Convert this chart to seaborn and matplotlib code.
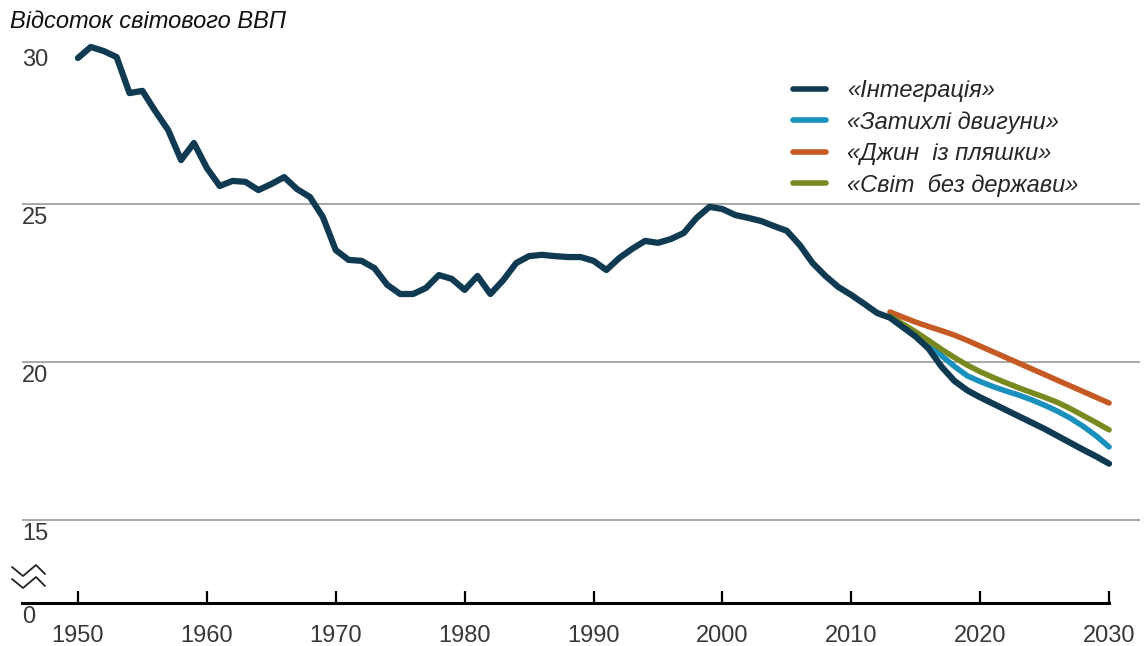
import matplotlib.pyplot as plt
import seaborn as sns
import pandas as pd
from matplotlib.lines import Line2D
from matplotlib import transforms

# --- дані (відсоток світового ВВП) ---
years_all = list(range(1950, 2031))
integration = [29.62, 29.97, 29.84, 29.65, 28.51, 28.58, 27.94, 27.34, 26.39, 26.93,
               26.14, 25.57, 25.73, 25.70, 25.44, 25.63, 25.85, 25.47, 25.22, 24.59,
               23.54, 23.23, 23.20, 22.97, 22.44, 22.15, 22.15, 22.34, 22.75, 22.63,
               22.28, 22.72, 22.15, 22.59, 23.13, 23.35, 23.39, 23.35, 23.32, 23.32,
               23.20, 22.91, 23.29, 23.58, 23.83, 23.77, 23.89, 24.08, 24.56, 24.91,
               24.84, 24.65, 24.56, 24.46, 24.30, 24.15, 23.70, 23.13, 22.72, 22.37,
               22.12, 21.84, 21.55, 21.40, 21.10, 20.80, 20.42, 19.85, 19.40, 19.10,
               18.88, 18.68, 18.48, 18.28, 18.08, 17.88, 17.66, 17.44, 17.22, 17.01,
               16.78]

years_proj = list(range(2013, 2031))
stalled = [21.42, 21.15, 20.88, 20.55, 20.20, 19.86, 19.56, 19.38, 19.22, 19.08,
           18.95, 18.80, 18.63, 18.44, 18.22, 17.96, 17.66, 17.31]
genie = [21.58, 21.42, 21.26, 21.12, 20.99, 20.85, 20.68, 20.50, 20.32, 20.14,
         19.96, 19.78, 19.60, 19.42, 19.24, 19.06, 18.88, 18.70]
stateless = [21.45, 21.20, 20.95, 20.68, 20.40, 20.14, 19.90, 19.69, 19.51, 19.34,
             19.18, 19.03, 18.88, 18.72, 18.52, 18.30, 18.08, 17.85]

scenarios = ['«Інтеграція»', '«Затихлі двигуни»', '«Джин  із пляшки»', '«Світ  без держави»']
colors = ['#0f3a52', '#1a90bd', '#c65a24', '#78891f']

x_ticks = [1950, 1960, 1970, 1980, 1990, 2000, 2010, 2020, 2030]
y_labels = [15, 20, 25, 30]
grid_vals = [15, 20, 25]

df = pd.concat([
    pd.DataFrame({'year': years_all, 'value': integration, 'scenario': scenarios[0]}),
    pd.DataFrame({'year': years_proj, 'value': stalled, 'scenario': scenarios[1]}),
    pd.DataFrame({'year': years_proj, 'value': genie, 'scenario': scenarios[2]}),
    pd.DataFrame({'year': years_proj, 'value': stateless, 'scenario': scenarios[3]}),
])

sns.set_style('white')
plt.rcParams['font.family'] = ['Liberation Sans', 'DejaVu Sans']

W, H = 1144, 646
fig = plt.figure(figsize=(W / 100, H / 100), dpi=100)
ax = fig.add_axes([22 / W, (H - 603) / H, (1140 - 22) / W, (603 - 40) / H])

sns.lineplot(data=df, x='year', y='value', hue='scenario', hue_order=scenarios,
             palette=colors, linewidth=4.0, ax=ax, legend=True)
for ln in ax.lines:
    ln.set_solid_capstyle('round')
    ln.set_solid_joinstyle('round')
ax.lines[0].set_linewidth(4.5)
ax.lines[0].set_zorder(5)

# осі: нижня межа відповідає «0» (розрив шкали)
ax.set_xlim(1945.66, 2032.4)
ax.set_ylim(12.37, 30.19)
ax.set_xlabel('')
ax.set_ylabel('')

for s in ['top', 'right', 'left']:
    ax.spines[s].set_visible(False)
ax.spines['bottom'].set_color('black')
ax.spines['bottom'].set_linewidth(2.2)
ax.spines['bottom'].set_bounds(1945.66, 2030)

tick_font = ['Liberation Sans Narrow', 'Liberation Sans', 'DejaVu Sans']
ax.set_xticks(x_ticks)
ax.set_xticklabels([str(v) for v in x_ticks], family=tick_font, fontsize=17, color='#383838')
ax.tick_params(axis='x', bottom=True, direction='in', length=9, width=1.6,
               color='black', pad=16)

ax.set_yticks(grid_vals)
ax.set_yticklabels([])
ax.tick_params(axis='y', left=False, length=0)
ax.yaxis.grid(True, color='#9a9a9a', linewidth=1.2)
ax.xaxis.grid(False)

trans = transforms.blended_transform_factory(ax.transAxes, ax.transData)
for v in y_labels:
    ax.text(0, v - 0.1, str(v), transform=trans, ha='left', va='top',
            family=tick_font, fontsize=17, color='#383838')
ax.text(0, 12.27, '0', transform=trans, ha='left', va='top',
        family=tick_font, fontsize=17, color='#383838')

# символ розриву шкали
for dy in (0, 12):
    xs = [12, 23, 36, 45]
    ys = [567 + dy, 576 + dy, 565 + dy, 574 + dy]
    fig.add_artist(Line2D([x / W for x in xs], [1 - y / H for y in ys],
                          transform=fig.transFigure, color='#222222', linewidth=1.3))

# заголовок осі
fig.text(10 / W, 1 - 22 / H, 'Відсоток світового ВВП', ha='left', va='center',
         fontsize=17, style='italic', color='#111111')

# легенда
handles, labels = ax.get_legend_handles_labels()
leg = ax.legend(handles, labels, loc='upper left', bbox_to_anchor=(793 / W, 1 - 79 / H),
                bbox_transform=fig.transFigure, frameon=False, borderpad=0, borderaxespad=0,
                handlelength=1.4, handletextpad=0.9, labelspacing=0.36,
                prop={'size': 17, 'style': 'italic'})
for h in leg.get_lines():
    h.set_linewidth(4.0)
    h.set_solid_capstyle('round')

fig.savefig('out.png', dpi=100)
